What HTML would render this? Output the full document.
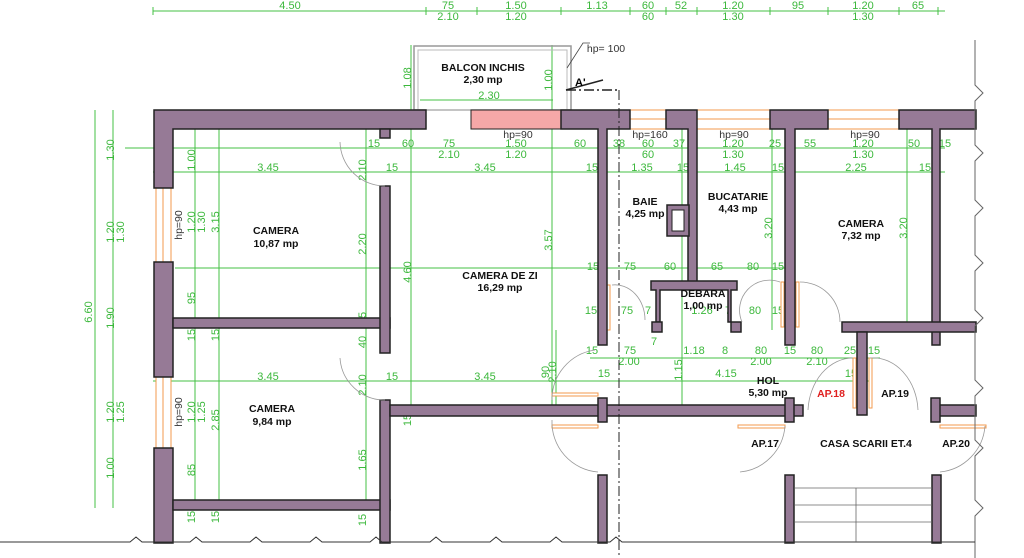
<!DOCTYPE html>
<html><head><meta charset="utf-8"><style>
html,body{margin:0;padding:0;background:#fff;}
svg{display:block;font-family:"Liberation Sans",sans-serif;}
.w{fill:#967a96;stroke:#222;stroke-width:1.5}
.g{stroke:#44c044;stroke-width:1;fill:none}
.gt{fill:#3cb83c;font-size:11px;text-anchor:middle}
.o{stroke:#f39a4c;stroke-width:1;fill:#fff}
.lab{font-size:10.5px;font-weight:bold;fill:#111;text-anchor:middle}
.arc{stroke:#999;stroke-width:0.8;fill:none}
</style></head><body>
<svg width="1024" height="558" viewBox="0 0 1024 558">
<g class="g">
<line x1="153" y1="11" x2="945" y2="11"/>
<line x1="125" y1="148" x2="945" y2="148"/>
<line x1="153" y1="172" x2="945" y2="172"/>
<line x1="175" y1="268" x2="795" y2="268"/>
<line x1="590" y1="358" x2="880" y2="358"/>
<line x1="560" y1="381" x2="870" y2="381"/>
<line x1="153" y1="381" x2="560" y2="381"/>
<line x1="95" y1="110" x2="95" y2="508"/>
<line x1="113" y1="110" x2="113" y2="508"/>
<line x1="195" y1="110" x2="195" y2="508"/>
<line x1="219" y1="110" x2="219" y2="508"/>
<line x1="366" y1="110" x2="366" y2="508"/>
<line x1="411" y1="45" x2="411" y2="416"/>
<line x1="552" y1="45" x2="552" y2="416"/>
<line x1="682" y1="110" x2="682" y2="416"/>
<line x1="772" y1="110" x2="772" y2="330"/>
<line x1="907" y1="110" x2="907" y2="330"/>
<line x1="556" y1="330" x2="556" y2="416"/>
<line x1="420" y1="100" x2="553" y2="100"/>
</g>
<g class="g">
<line x1="153" y1="7" x2="153" y2="15"/><line x1="426" y1="7" x2="426" y2="15"/><line x1="477" y1="7" x2="477" y2="15"/><line x1="561" y1="7" x2="561" y2="15"/><line x1="630" y1="7" x2="630" y2="15"/><line x1="666" y1="7" x2="666" y2="15"/><line x1="697" y1="7" x2="697" y2="15"/><line x1="770" y1="7" x2="770" y2="15"/><line x1="828" y1="7" x2="828" y2="15"/><line x1="899" y1="7" x2="899" y2="15"/><line x1="938" y1="7" x2="938" y2="15"/>
</g>
<g class="gt">
<text x="290" y="9">4.50</text>
<text x="448" y="9">75</text><text x="448" y="20">2.10</text>
<text x="516" y="9">1.50</text><text x="516" y="20">1.20</text>
<text x="597" y="9">1.13</text>
<text x="648" y="9">60</text><text x="648" y="20">60</text>
<text x="681" y="9">52</text>
<text x="733" y="9">1.20</text><text x="733" y="20">1.30</text>
<text x="798" y="9">95</text>
<text x="863" y="9">1.20</text><text x="863" y="20">1.30</text>
<text x="918" y="9">65</text>
<text x="374" y="147">15</text><text x="408" y="147">60</text><text x="449" y="147">75</text><text x="449" y="158">2.10</text><text x="516" y="147">1.50</text><text x="516" y="158">1.20</text><text x="580" y="147">60</text><text x="619" y="147">38</text><text x="648" y="147">60</text><text x="648" y="158">60</text><text x="679" y="147">37</text><text x="733" y="147">1.20</text><text x="733" y="158">1.30</text><text x="775" y="147">25</text><text x="810" y="147">55</text><text x="863" y="147">1.20</text><text x="863" y="158">1.30</text><text x="914" y="147">50</text><text x="945" y="147">15</text>
<text x="164" y="171">30</text><text x="268" y="171">3.45</text><text x="392" y="171">15</text><text x="485" y="171">3.45</text><text x="592" y="171">15</text><text x="642" y="171">1.35</text><text x="683" y="171">15</text><text x="735" y="171">1.45</text><text x="778" y="171">15</text><text x="856" y="171">2.25</text><text x="925" y="171">15</text>
<text x="268" y="380">3.45</text><text x="392" y="380">15</text><text x="485" y="380">3.45</text>
<text x="593" y="270">15</text><text x="630" y="270">75</text><text x="670" y="270">60</text><text x="717" y="270">65</text><text x="753" y="270">80</text><text x="778" y="270">15</text>
<text x="591" y="314">15</text><text x="627" y="314">75</text><text x="648" y="314">7</text><text x="702" y="314">1.26</text><text x="728" y="314">7</text><text x="755" y="314">80</text><text x="778" y="314">15</text>
<text x="592" y="354">15</text><text x="630" y="354">75</text><text x="629" y="365">2.00</text><text x="694" y="354">1.18</text><text x="725" y="354">8</text><text x="761" y="354">80</text><text x="761" y="365">2.00</text><text x="790" y="354">15</text><text x="817" y="354">80</text><text x="817" y="365">2.10</text><text x="850" y="354">25</text><text x="874" y="354">15</text>
<text x="604" y="377">15</text><text x="726" y="377">4.15</text><text x="851" y="377">15</text>
<text x="489" y="99">2.30</text>
<text x="654" y="345">7</text>
</g>
<g class="gt">
<text transform="translate(114,150) rotate(-90)">1.30</text>
<text transform="translate(114,232) rotate(-90)">1.20</text>
<text transform="translate(124,232) rotate(-90)">1.30</text>
<text transform="translate(92,312) rotate(-90)">6.60</text>
<text transform="translate(114,318) rotate(-90)">1.90</text>
<text transform="translate(114,412) rotate(-90)">1.20</text>
<text transform="translate(124,412) rotate(-90)">1.25</text>
<text transform="translate(114,468) rotate(-90)">1.00</text>
<text transform="translate(195,160) rotate(-90)">1.00</text>
<text transform="translate(195,222) rotate(-90)">1.20</text>
<text transform="translate(205,222) rotate(-90)">1.30</text>
<text transform="translate(219,222) rotate(-90)">3.15</text>
<text transform="translate(195,298) rotate(-90)">95</text>
<text transform="translate(195,412) rotate(-90)">1.20</text>
<text transform="translate(205,412) rotate(-90)">1.25</text>
<text transform="translate(219,420) rotate(-90)">2.85</text>
<text transform="translate(195,470) rotate(-90)">85</text>
<text transform="translate(195,335) rotate(-90)">15</text><text transform="translate(219,335) rotate(-90)">15</text>
<text transform="translate(195,517) rotate(-90)">15</text><text transform="translate(219,517) rotate(-90)">15</text>
<text transform="translate(195,122) rotate(-90)">30</text><text transform="translate(219,122) rotate(-90)">30</text><text transform="translate(366,122) rotate(-90)">30</text><text transform="translate(411,122) rotate(-90)">30</text><text transform="translate(552,122) rotate(-90)">30</text>
<text transform="translate(366,244) rotate(-90)">2.20</text>
<text transform="translate(366,170) rotate(-90)">2.10</text>
<text transform="translate(366,385) rotate(-90)">2.10</text>
<text transform="translate(366,342) rotate(-90)">40</text>
<text transform="translate(366,318) rotate(-90)">15</text>
<text transform="translate(366,460) rotate(-90)">1.65</text>
<text transform="translate(366,520) rotate(-90)">15</text>
<text transform="translate(411,272) rotate(-90)">4.60</text>
<text transform="translate(411,78) rotate(-90)">1.08</text>
<text transform="translate(552,80) rotate(-90)">1.00</text>
<text transform="translate(552,240) rotate(-90)">3.57</text>
<text transform="translate(556,372) rotate(-90)">2.10</text>
<text transform="translate(549,372) rotate(-90)">90</text>
<text transform="translate(411,420) rotate(-90)">15</text>
<text transform="translate(682,228) rotate(-90)">46</text>
<text transform="translate(682,370) rotate(-90)">1.15</text>
<text transform="translate(772,228) rotate(-90)">3.20</text>
<text transform="translate(907,228) rotate(-90)">3.20</text>
</g>
<rect x="414" y="46" width="157" height="64" fill="none" stroke="#999" stroke-width="1.5"/>
<rect x="418" y="50" width="149" height="60" fill="none" stroke="#bbb" stroke-width="1"/>
<g class="o">
<rect x="156" y="188" width="15" height="74"/><line x1="163" y1="188" x2="163" y2="262"/>
<rect x="156" y="377" width="15" height="71"/><line x1="163" y1="377" x2="163" y2="448"/>
<rect x="630" y="110" width="36" height="19"/><line x1="630" y1="119" x2="666" y2="119"/>
<rect x="697" y="110" width="73" height="19"/><line x1="697" y1="119" x2="770" y2="119"/>
<rect x="828" y="110" width="71" height="19"/><line x1="828" y1="119" x2="899" y2="119"/>
<rect x="552" y="393" width="46" height="3"/><rect x="552" y="425" width="46" height="3"/>
<rect x="738" y="425" width="47" height="3"/><rect x="940" y="425" width="46" height="3"/>
<rect x="607" y="285" width="3" height="45"/><rect x="781" y="282" width="3" height="45"/><rect x="796" y="282" width="3" height="45"/>
<rect x="853" y="358" width="3" height="50"/><rect x="869" y="358" width="3" height="50"/>
</g>
<rect x="471" y="110" width="90" height="19" fill="#f5a8a8" stroke="#222" stroke-width="1"/>
<g class="w">
<path d="M154 110 H426 V129 H173 V188 H154 Z"/>
<rect x="380" y="129" width="10" height="9"/>
<rect x="154" y="262" width="19" height="115"/>
<rect x="154" y="448" width="19" height="95"/>
<rect x="173" y="318" width="217" height="10"/>
<rect x="173" y="500" width="217" height="10"/>
<rect x="380" y="186" width="10" height="167"/>
<rect x="380" y="400" width="10" height="143"/>
<rect x="390" y="405" width="413" height="11"/>
<path d="M561 110 H630 V129 H607 V345 H598 V129 H561 Z"/>
<path d="M666 110 H697 V285 H688 V129 H666 Z"/>
<path d="M770 110 H828 V129 H795 V345 H785 V129 H770 Z"/>
<path d="M899 110 H976 V129 H940 V345 H932 V129 H899 Z"/>
<rect x="842" y="322" width="134" height="10"/>
<rect x="857" y="332" width="10" height="83"/>
<rect x="933" y="405" width="43" height="11"/>
<rect x="598" y="398" width="9" height="24"/><rect x="785" y="398" width="9" height="24"/><rect x="931" y="398" width="9" height="24"/>
<path d="M651 281 H737 V290 H731 V322 H728 V290 H660 V322 H656 V290 H651 Z"/>
<rect x="652" y="322" width="10" height="10"/><rect x="731" y="322" width="10" height="10"/>
<rect x="667" y="205" width="22" height="31"/>
<rect x="598" y="475" width="9" height="68"/><rect x="785" y="475" width="9" height="68"/><rect x="932" y="475" width="9" height="68"/>
</g>
<rect x="672" y="210" width="12" height="21" fill="#fff" stroke="#222"/>
<g class="arc">
<path d="M340 142 A45 45 0 0 0 385 186"/>
<path d="M340 358 A45 45 0 0 0 385 400"/>
<path d="M612 285 A30 35 0 0 1 645 320"/>
<path d="M780 282 A30 30 0 0 0 742 322"/>
<path d="M800 282 A40 40 0 0 1 840 322"/>
<path d="M595 350 A50 50 0 0 0 552 400"/>
<path d="M552 420 A50 50 0 0 0 598 472"/>
<path d="M785 426 A50 50 0 0 1 740 472"/>
<path d="M808 410 A45 55 0 0 1 853 358"/>
<path d="M870 358 A45 55 0 0 1 918 410"/>
<path d="M985 426 A50 50 0 0 1 940 472"/>
</g>
<line x1="619" y1="90" x2="619" y2="558" stroke="#222" stroke-width="1" stroke-dasharray="10,3,2,3"/>
<path d="M566 90 H619" stroke="#222" stroke-width="1.5" stroke-dasharray="10,3,2,3" fill="none"/>
<path d="M566 90 L603 80" stroke="#222" stroke-width="1.5"/>
<path d="M567 68 L583 43 H590" stroke="#444" stroke-width="0.8" fill="none"/>
<path d="M975 40 V85 l8 8 -8 8 V145 l8 8 -8 8 V200 l8 8 -8 8 V255 l8 8 -8 8 V310 l8 8 -8 8 V380 l8 8 -8 8 V440 l8 8 -8 8 V500 l8 8 -8 8 V558" stroke="#666" fill="none"/>
<path d="M0 542 H130 l6 -5 6 5 H190 l6 -5 6 5 H250 l6 -5 6 5 H310 l6 -5 6 5 H370 l6 -5 6 5 H430 l6 -5 6 5 H490 l6 -5 6 5 H550 l6 -5 6 5 H610 l6 -5 6 5 H794 M794 542 H975" stroke="#333" fill="none"/>
<g stroke="#666" fill="none" stroke-width="0.8"><line x1="795" y1="488" x2="932" y2="488"/><line x1="795" y1="505" x2="932" y2="505"/><line x1="795" y1="522" x2="932" y2="522"/><line x1="856" y1="488" x2="856" y2="542"/></g>
<text class="lab" x="483" y="71">BALCON INCHIS</text><text class="lab" x="483" y="83">2,30 mp</text>
<text class="lab" x="276" y="234">CAMERA</text><text class="lab" x="276" y="247">10,87 mp</text>
<text class="lab" x="272" y="412">CAMERA</text><text class="lab" x="272" y="425">9,84 mp</text>
<text class="lab" x="500" y="279">CAMERA DE ZI</text><text class="lab" x="500" y="291">16,29 mp</text>
<text class="lab" x="645" y="205">BAIE</text><text class="lab" x="645" y="217">4,25 mp</text>
<text class="lab" x="738" y="200">BUCATARIE</text><text class="lab" x="738" y="212">4,43 mp</text>
<text class="lab" x="861" y="227">CAMERA</text><text class="lab" x="861" y="239">7,32 mp</text>
<text class="lab" x="703" y="297">DEBARA</text><text class="lab" x="703" y="309">1,00 mp</text>
<text class="lab" x="768" y="384">HOL</text><text class="lab" x="768" y="396">5,30 mp</text>
<text class="lab" x="831" y="397" style="fill:#e02020">AP.18</text>
<text class="lab" x="895" y="397">AP.19</text>
<text class="lab" x="765" y="447">AP.17</text>
<text class="lab" x="866" y="447">CASA SCARII ET.4</text>
<text class="lab" x="956" y="447">AP.20</text>
<text x="575" y="86" style="font-size:11px;font-weight:bold">A'</text>
<g style="font-size:10.5px;fill:#333;text-anchor:middle">
<text x="606" y="52">hp= 100</text>
<text x="518" y="138">hp=90</text>
<text x="650" y="138">hp=160</text>
<text x="734" y="138">hp=90</text>
<text x="865" y="138">hp=90</text>
<text transform="translate(182,225) rotate(-90)">hp=90</text>
<text transform="translate(182,412) rotate(-90)">hp=90</text>
</g>
</svg>
</body></html>
